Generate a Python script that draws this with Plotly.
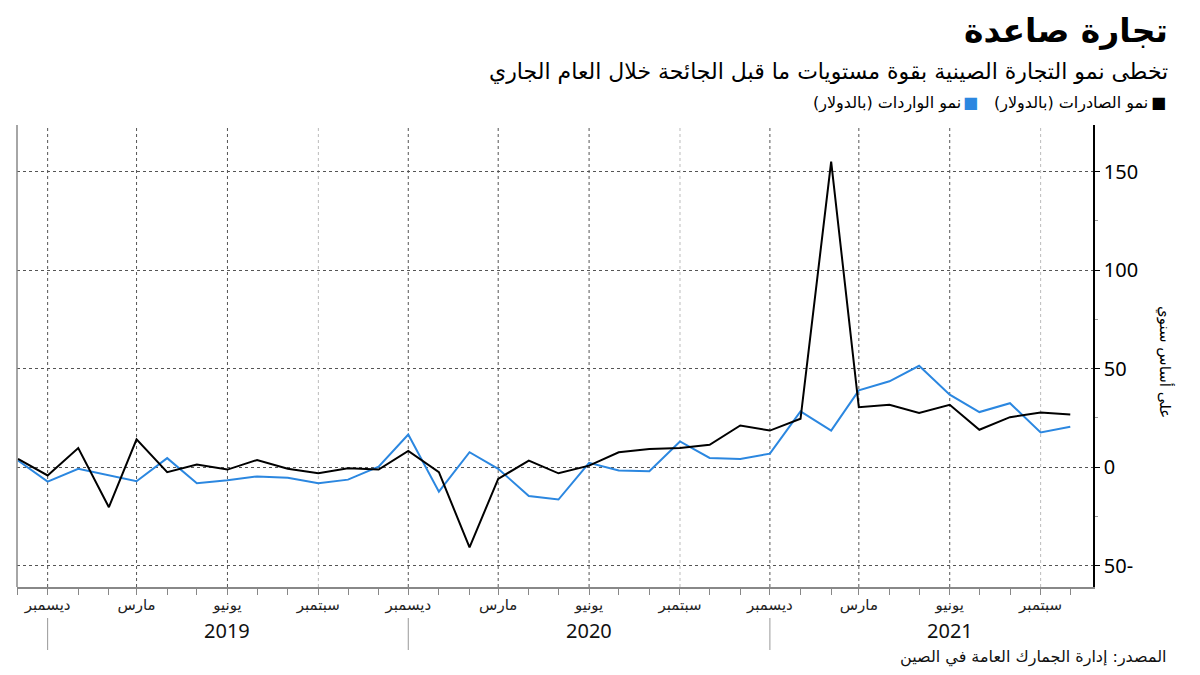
import plotly.graph_objects as go
import pandas as pd

months = pd.date_range("2018-11-01", "2021-10-01", freq="MS")

exports = [4.2, -4.2, 9.7, -20.3, 14.1, -2.5, 1.4, -1.2, 3.7, -0.8, -3.1, -0.5,
           -1.2, 8.3, -2.5, -40.7, -5.9, 3.4, -3.1, 0.8, 7.6, 9.3, 9.8, 11.4,
           21.2, 18.6, 24.6, 155.1, 30.5, 31.7, 27.5, 31.7, 19.0, 25.4, 27.8, 26.8]
imports = [3.4, -7.3, -0.8, -4.2, -7.1, 4.6, -8.1, -6.6, -4.7, -5.3, -8.1, -6.3,
           0.3, 16.6, -12.4, 7.6, -0.8, -14.6, -16.4, 2.2, -1.7, -2.0, 13.1, 4.7,
           4.2, 6.9, 28.3, 18.6, 39.0, 43.6, 51.5, 36.8, 28.0, 32.5, 17.6, 20.5]

quarter_ticks = ["2018-12-01", "2019-03-01", "2019-06-01", "2019-09-01",
                 "2019-12-01", "2020-03-01", "2020-06-01", "2020-09-01",
                 "2020-12-01", "2021-03-01", "2021-06-01", "2021-09-01"]
quarter_labels = ["ديسمبر", "مارس", "يونيو", "سبتمبر"] * 3
year_labels = ["2019", "2020", "2021"]
year_centers = ["2019-06-01", "2020-06-01", "2021-06-01"]
year_dividers = ["2018-12-01", "2019-12-01", "2020-12-01"]

y_ticks = [-50, 0, 50, 100, 150]
y_ticktext = ["50-", "0", "50", "100", "150"]

title = "تجارة صاعدة"
subtitle = "تخطى نمو التجارة الصينية بقوة مستويات ما قبل الجائحة خلال العام الجاري"
name_exp = "نمو الصادرات (بالدولار)"
name_imp = "نمو الواردات (بالدولار)"
y_title = "على أساس سنوي"
source = "المصدر: إدارة الجمارك العامة في الصين"

BLUE = "#2b87e0"
AR_FONT = "DejaVu Sans"
NUM_FONT = "Noto Sans"

# page body has an 8px margin: figure origin sits at (8, 8) in the window
OFF = 8
W, H = 1184, 659
L, R, T, B = 17 - OFF, 1093 - OFF, 125 - OFF, 587 - OFF


def px(x):
    return (x - OFF - L) / (R - L)


def py(y):
    return (B - (y - OFF)) / (B - T)


fig = go.Figure()
fig.add_trace(go.Scatter(x=months, y=imports, mode="lines", name=name_imp,
                         line=dict(color=BLUE, width=2)))
fig.add_trace(go.Scatter(x=months, y=exports, mode="lines", name=name_exp,
                         line=dict(color="#000000", width=2)))

shapes = []
for d in quarter_ticks:
    col = "#bbbbbb" if d.endswith("-09-01") else "#555555"
    shapes.append(dict(type="line", xref="x", yref="paper", x0=d, x1=d, y0=0, y1=1,
                       line=dict(color=col, width=1, dash="dot"), layer="below"))
for d in year_dividers:
    shapes.append(dict(type="line", xref="x", yref="paper", x0=d, x1=d,
                       y0=py(618), y1=py(650), line=dict(color="#999999", width=1)))
shapes.append(dict(type="line", xref="paper", yref="paper", x0=0, x1=0, y0=0, y1=1,
                   line=dict(color="#888888", width=1.5)))

annotations = []


def ann(text, x, y, size, color="#000", font=AR_FONT, xanchor="right", **kw):
    annotations.append(dict(text=text, x=x, y=y, xref="paper", yref="paper",
                            showarrow=False, xanchor=xanchor, yanchor="middle",
                            font=dict(family=font, size=size, color=color), **kw))


ann(f"<b>{title}</b>", px(1170), py(31), 33)
ann(subtitle, px(1170), py(72), 22)
ann("■", px(1168), py(103), 16)
ann(name_exp, px(1150), py(103), 16)
ann("■", px(980), py(103), 16, color=BLUE)
ann(name_imp, px(963), py(103), 16)
ann(source, px(1168), py(657), 16, color="#111")
ann(y_title, px(1165), py(362), 15, xanchor="center", textangle=90)
for lab, d in zip(year_labels, year_centers):
    annotations.append(dict(text=lab, x=d, y=py(630), xref="x", yref="paper",
                            showarrow=False, xanchor="center", yanchor="middle",
                            font=dict(family=NUM_FONT, size=20, color="#111")))

fig.update_layout(
    width=W, height=H,
    margin=dict(l=L, r=W - R, t=T, b=H - B),
    paper_bgcolor="white", plot_bgcolor="white",
    showlegend=False,
    shapes=shapes, annotations=annotations,
    xaxis=dict(
        range=["2018-10-31", "2021-10-24"],
        tickvals=quarter_ticks, ticktext=quarter_labels,
        tickfont=dict(family=AR_FONT, size=15, color="#222"),
        ticklabelstandoff=-3,
        showgrid=False, zeroline=False,
        showline=True, linecolor="#888888", linewidth=1.5,
        ticks="outside", ticklen=6, tickcolor="#888888",
        minor=dict(dtick="M1", tick0="2018-11-01", ticks="outside", ticklen=6,
                   tickcolor="#888888", showgrid=False),
    ),
    yaxis=dict(
        side="right", range=[-60.8, 173.7],
        tickvals=y_ticks, ticktext=y_ticktext,
        tickfont=dict(family=NUM_FONT, size=20, color="#000"),
        showgrid=True, gridcolor="#555555", griddash="dot", gridwidth=1,
        zeroline=False,
        showline=True, linecolor="#000", linewidth=1.5,
        ticks="outside", ticklen=5, tickcolor="#000",
        minor=dict(dtick=25, tick0=-25, ticks="outside", ticklen=3,
                   tickcolor="#999999", showgrid=False),
    ),
)

fig.write_html("out.html")
